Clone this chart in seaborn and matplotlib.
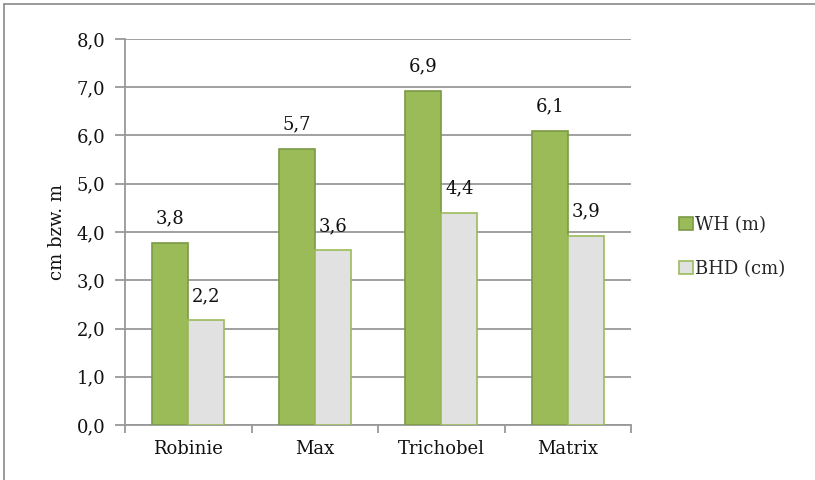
import matplotlib
matplotlib.use("Agg")
import matplotlib.pyplot as plt
from matplotlib.patches import Patch
from matplotlib.lines import Line2D
import seaborn as sns
import pandas as pd

# Values per variety
categories = ["Robinie", "Max", "Trichobel", "Matrix"]
wh_m = [3.78, 5.72, 6.93, 6.10]
bhd_cm = [2.17, 3.62, 4.40, 3.92]
series_names = ["WH (m)", "BHD (cm)"]
y_ticks = [0, 1, 2, 3, 4, 5, 6, 7, 8]

df = pd.DataFrame({
    "Sorte": categories * 2,
    "Wert": wh_m + bhd_cm,
    "Merkmal": [series_names[0]] * len(categories) + [series_names[1]] * len(categories),
})

sns.set_theme(style="white")
plt.rcParams["font.family"] = ["DejaVu Serif"]

GREEN = "#9BBB59"
GREEN_EDGE = "#7A9A45"
GREY_FILL = "#E1E1E1"
GRID = "#999999"
TXT = "#111111"
FS = 13

fig = plt.figure(figsize=(8.15, 4.8), dpi=100)
ax = fig.add_axes([125 / 815, 1 - 425 / 480, (631 - 125) / 815, (425 - 39) / 480])

sns.barplot(data=df, x="Sorte", y="Wert", hue="Merkmal",
            palette=[GREEN, GREY_FILL], width=0.57, gap=0,
            edgecolor=GREEN_EDGE, linewidth=1.2, saturation=1,
            legend=False, ax=ax, zorder=3)

# lighter outline on the grey bars
for bar in ax.containers[1]:
    bar.set_edgecolor(GREEN)

for cont in ax.containers:
    ax.bar_label(cont, labels=[f"{b.get_height():.1f}".replace(".", ",") for b in cont],
                 padding=11, fontsize=FS, color=TXT)

ax.set_ylim(0, 8)
ax.set_xlim(-0.5, len(categories) - 0.5)
ax.set_yticks(y_ticks)
ax.set_yticklabels([f"{v:.1f}".replace(".", ",") for v in y_ticks], fontsize=FS, color=TXT)
ax.tick_params(axis="y", length=7, width=1.3, color=GRID, pad=7, left=True)
ax.tick_params(axis="x", which="major", length=0, pad=11, labelsize=FS, labelcolor=TXT)

# x-axis ticks between categories
ax.set_xticks([i - 0.5 for i in range(len(categories) + 1)], minor=True)
ax.tick_params(axis="x", which="minor", bottom=True, length=6, width=1.3, color=GRID)

ax.yaxis.grid(True, color=GRID, linewidth=1.3, zorder=0)
ax.set_axisbelow(True)

for side in ["top", "right"]:
    ax.spines[side].set_visible(False)
for side in ["left", "bottom"]:
    ax.spines[side].set_color(GRID)
    ax.spines[side].set_linewidth(1.3)

ax.set_xlabel("")
ax.set_ylabel("")
fig.text(57 / 815, 1 - 232 / 480, "cm bzw. m", rotation=90, ha="center", va="center",
         fontsize=FS, color=TXT)

handles = [Patch(facecolor=GREEN, edgecolor=GREEN_EDGE, linewidth=1.2),
           Patch(facecolor=GREY_FILL, edgecolor=GREEN, linewidth=1.2)]
fig.legend(handles, series_names, loc="center left", bbox_to_anchor=(672 / 815, 1 - 247 / 480),
           frameon=False, fontsize=FS, handlelength=0.75, handleheight=0.75,
           handletextpad=0.15, labelspacing=1.45, borderaxespad=0)

# chart frame (left and top edges visible)
fig.add_artist(Line2D([4 / 815, 4 / 815], [0, 1 - 4 / 480], transform=fig.transFigure,
                      color="#8A8A8A", linewidth=1.2))
fig.add_artist(Line2D([4 / 815, 1], [1 - 4 / 480, 1 - 4 / 480], transform=fig.transFigure,
                      color="#8A8A8A", linewidth=1.2))

fig.savefig("out.png", dpi=100)
